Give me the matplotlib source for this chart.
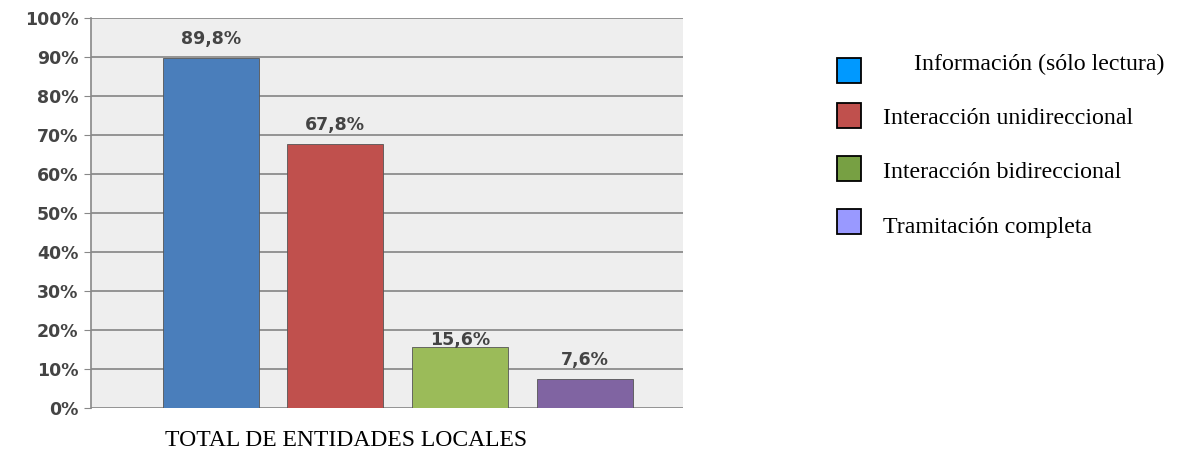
import matplotlib.pyplot as plt
from matplotlib.patches import Rectangle

categories = ['Información (sólo lectura)', 'Interacción unidireccional',
              'Interacción bidireccional', 'Tramitación completa']
values = [89.8, 67.8, 15.6, 7.6]
value_labels = ['89,8%', '67,8%', '15,6%', '7,6%']
bar_colors = ['#4a7ebb', '#c0504d', '#9bbb59', '#8064a2']
legend_colors = ['#0099ff', '#c0504d', '#77a043', '#9999ff']
yticks = list(range(0, 101, 10))

fig = plt.figure(figsize=(11.8, 4.54), dpi=100)
ax = fig.add_axes([0.077, 0.101, 0.502, 0.859])
ax.set_facecolor('#eeeeee')

x = list(range(len(values)))
ax.bar(x, values, width=0.77, color=bar_colors, edgecolor='#555555',
       linewidth=0.6, zorder=3)
label_pad = [4.8, 4.8, 2.0, 4.8]
for xi, v, lab, pad in zip(x, values, value_labels, label_pad):
    ax.text(xi, v + pad, lab, ha='center', va='center', fontsize=12.5,
            fontweight='bold', color='#444444', zorder=4)

ax.set_xlim(-0.96, 3.79)
ax.set_ylim(0, 100)
ax.set_yticks(yticks)
ax.set_yticklabels([f'{t}%' for t in yticks], fontsize=12.5,
                   fontweight='bold', color='#444444')
ax.set_xticks([])
ax.yaxis.grid(True, color='#8c8c8c', linewidth=1.3, zorder=1)
ax.tick_params(axis='y', length=5, color='#888888', pad=4)
for side in ['top', 'right', 'bottom']:
    ax.spines[side].set_visible(False)
ax.spines['left'].set_color('#888888')
ax.spines['left'].set_linewidth(1.2)

fig.text(0.293, 0.03, 'TOTAL DE ENTIDADES LOCALES', ha='center', va='center',
         fontsize=17, family='Liberation Serif')

# legend drawn as figure artists
box_y = [0.817, 0.718, 0.601, 0.485]
text_y = [0.857, 0.740, 0.619, 0.498]
text_x = [0.775, 0.748, 0.748, 0.748]
for c, lab, by, ty, tx in zip(legend_colors, categories, box_y, text_y, text_x):
    fig.add_artist(Rectangle((0.709, by), 0.021, 0.055, facecolor=c,
                             edgecolor='black', linewidth=1.3,
                             transform=fig.transFigure))
    fig.text(tx, ty, lab, ha='left', va='center', fontsize=17.2,
             family='Liberation Serif')

fig.savefig('out.png', dpi=100, facecolor='white')
